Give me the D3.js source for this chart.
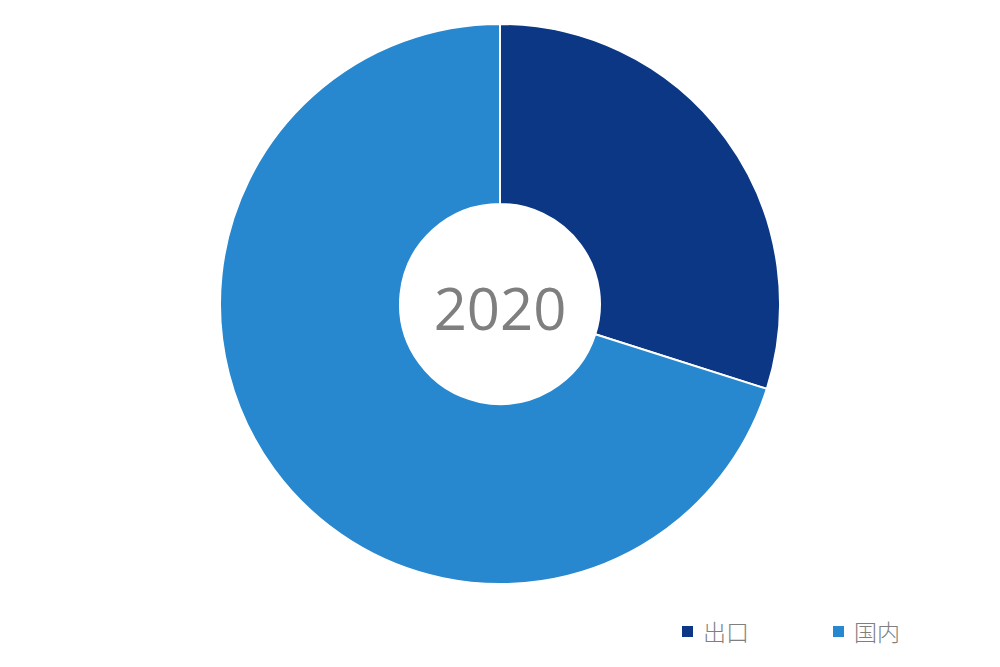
<!DOCTYPE html>
<html>
<head>
<meta charset="utf-8">
<title>2020</title>
<script src="https://cdn.jsdelivr.net/npm/d3@7"></script>
<style>
  body { margin: 0; background: #fff; }
</style>
</head>
<body>
<script>
var categories = ["出口", "国内"];
var values = [29.9, 70.1];
var colors = ["#0c3784", "#2787cf"];
var centerLabel = "2020";

var width = 1000, height = 667;
var cx = 500, cy = 304;
var outerR = 280, innerR = 100;

var svg = d3.select("body").append("svg")
    .attr("width", width)
    .attr("height", height);

var color = d3.scaleOrdinal().domain(categories).range(colors);

var pie = d3.pie().sort(null).value(function(d, i) { return values[i]; });
var arc = d3.arc().innerRadius(innerR).outerRadius(outerR);

var g = svg.append("g").attr("transform", "translate(" + cx + "," + cy + ")");

g.selectAll("path")
    .data(pie(categories))
    .enter()
    .append("path")
    .attr("d", arc)
    .attr("fill", function(d) { return color(d.data); })
    .attr("stroke", "#fff")
    .attr("stroke-width", 2);

g.append("text")
    .attr("text-anchor", "middle")
    .attr("y", 26)
    .attr("font-family", "'Open Sans', sans-serif")
    .attr("font-size", 58)
    .attr("fill", "#7f7f7f")
    .text(centerLabel);

// 图例
var legend = svg.append("g").attr("transform", "translate(682,632)");
var item = legend.selectAll("g")
    .data(categories)
    .enter()
    .append("g")
    .attr("transform", function(d, i) { return "translate(" + (i * 151) + ",0)"; });

item.append("rect")
    .attr("x", 0).attr("y", -6)
    .attr("width", 11).attr("height", 11)
    .attr("fill", function(d) { return color(d); });

item.append("text")
    .attr("x", 21)
    .attr("y", 9)
    .attr("font-family", "'Noto Sans CJK SC', sans-serif")
    .attr("font-size", 23)
    .attr("font-weight", 300)
    .attr("fill", "#7f7f7f")
    .text(function(d) { return d; });
</script>
</body>
</html>
